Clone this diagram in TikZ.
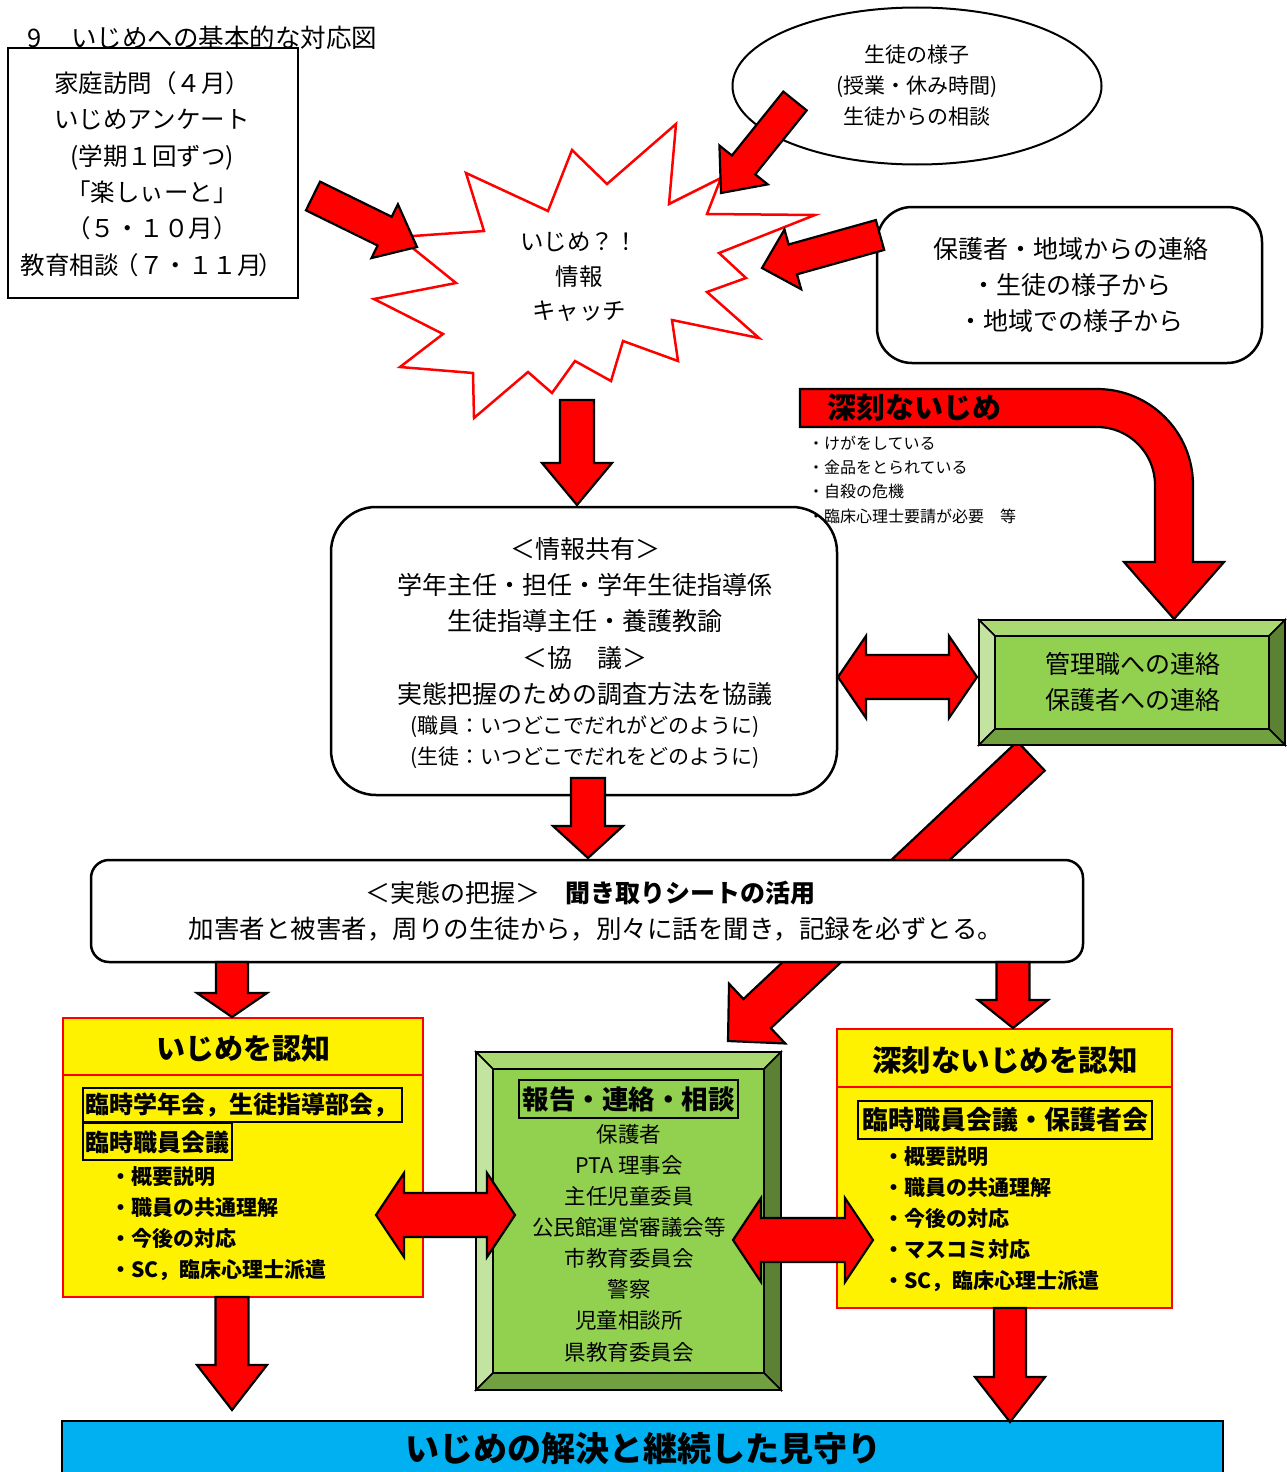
\documentclass[tikz,border=0pt]{standalone}
\usepackage{fontspec}
\setmainfont{Noto Sans CJK JP}
\usetikzlibrary{calc,shapes.geometric}
\definecolor{gface}{HTML}{92D050}
\definecolor{gtop}{HTML}{A9D970}
\definecolor{gleft}{HTML}{C3E3A0}
\definecolor{gright}{HTML}{5A8232}
\definecolor{gbot}{HTML}{70A040}
\definecolor{skyb}{HTML}{00B0F0}
\newcommand\fsl[2]{\fontsize{#1}{#2}\selectfont}
\tikzset{
  barrow/.style={fill=red, draw=black, line width=2.2pt, line join=miter, miter limit=10},
  txt/.style={inner sep=0pt},
  blackbox/.style={draw=black, line width=2.5pt, fill=white, inner sep=0pt},
  yellowbox/.style={draw=red, fill=yellow, line width=2pt, inner sep=0pt},
  tagbox/.style={draw=black, line width=2pt},
}
\newcommand\blockarrow[5]{%
  \coordinate (bah) at ($(#2)!#5pt!(#1)$);
  \draw[barrow] ($(#1)!#3pt!90:(#2)$) -- ($(bah)!#3pt!90:(#2)$) -- ($(bah)!#4pt!90:(#2)$) -- (#2) -- ($(bah)!#4pt!-90:(#2)$) -- ($(bah)!#3pt!-90:(#2)$) -- ($(#1)!#3pt!-90:(#2)$) -- cycle;
}
\newcommand\dblarrow[5]{%
  \coordinate (dha) at ($(#1)!#5pt!(#2)$);
  \coordinate (dhb) at ($(#2)!#5pt!(#1)$);
  \draw[barrow] (#1) -- ($(dha)!#4pt!90:(#2)$) -- ($(dha)!#3pt!90:(#2)$) -- ($(dhb)!#3pt!-90:(#1)$) -- ($(dhb)!#4pt!-90:(#1)$) -- (#2) -- ($(dhb)!#4pt!90:(#1)$) -- ($(dhb)!#3pt!90:(#1)$) -- ($(dha)!#3pt!-90:(#2)$) -- ($(dha)!#4pt!-90:(#2)$) -- cycle;
}
\newcommand\bevelbox[5]{%
  \filldraw[draw=black, line width=1.5pt, fill=gtop] (#1,#2) -- (#3,#2) -- ({#3-#5},{#2+#5}) -- ({#1+#5},{#2+#5}) -- cycle;
  \filldraw[draw=black, line width=1.5pt, fill=gleft] (#1,#2) -- ({#1+#5},{#2+#5}) -- ({#1+#5},{#4-#5}) -- (#1,#4) -- cycle;
  \filldraw[draw=black, line width=1.5pt, fill=gright] (#3,#2) -- (#3,#4) -- ({#3-#5},{#4-#5}) -- ({#3-#5},{#2+#5}) -- cycle;
  \filldraw[draw=black, line width=1.5pt, fill=gbot] (#1,#4) -- (#3,#4) -- ({#3-#5},{#4-#5}) -- ({#1+#5},{#4-#5}) -- cycle;
  \filldraw[draw=black, line width=1.5pt, fill=gface] ({#1+#5},{#2+#5}) rectangle ({#3-#5},{#4-#5});
  \draw[line width=2.8pt] (#1,#2) rectangle (#3,#4);
}
\begin{document}
\begin{tikzpicture}[x=1pt,y=-1pt]
\useasboundingbox (0,0) rectangle (1287,1472);
\fill[white] (0,0) rectangle (1287,1472);

% ---------- starburst ----------
\draw[red, line width=2.5pt, fill=white, line join=miter]
 (399,237) -- (484,231) -- (466,173) -- (548,211) -- (572,150) -- (607,184) -- (676,124) -- (669,204) -- (721,178) -- (707,214) -- (815,215) -- (719,253) -- (746,278) -- (707,292) -- (759,338) -- (672,320) -- (678,361) -- (623,341) -- (611,381) -- (575,361) -- (552,393) -- (528,372) -- (474,418) -- (473,373) -- (400,367) -- (443,334) -- (374,299) -- (456,283) -- cycle;
\node[txt, align=center, font=\fsl{23.5}{34.5}] (star) at (579,277) {いじめ？！\\情報\\キャッチ};

% ---------- title and top-left box ----------
\node[txt, anchor=west, font=\fsl{25.5}{25.5}] (title) at (27,38) {9\hspace{30pt}いじめへの基本的な対応図};
\node[blackbox, minimum width=290pt, minimum height=250pt] (home) at (153,173) {};
\node[txt, align=center, font=\fsl{24.5}{36.4}] (hometext) at (152,174) {家庭訪問（４月）\\いじめアンケート\\(学期１回ずつ)\\「楽しぃーと」\\（５・１０月）\\教育相談\hspace{-4pt}（７・１１月\hspace{-3pt}）};

% ---------- ellipse ----------
\node[draw, ellipse, line width=2pt, fill=white, minimum width=369pt, minimum height=157pt, inner sep=0pt] (ell) at (917,86) {};
\node[txt, align=center, font=\fsl{21}{31}] (elltext) at (917,86) {生徒の様子\\(授業・休み時間)\\生徒からの相談};

% ---------- parents box ----------
\node[blackbox, rounded corners=35pt, minimum width=385pt, minimum height=156pt] (par) at (1069.5,285) {};
\node[txt, align=center, font=\fsl{25}{36}] (partext) at (1071,285) {保護者・地域からの連絡\\・生徒の様子から\\・地域での様子から};

% ---------- arrows into starburst ----------
\coordinate (a1t) at (795,101); \coordinate (a1h) at (721,193);
\blockarrow{a1t}{a1h}{15}{31}{36}
\coordinate (a2t) at (313,196); \coordinate (a2h) at (417,247);
\blockarrow{a2t}{a2h}{16}{30}{36}
\coordinate (a3t) at (880,235); \coordinate (a3h) at (762,268);
\blockarrow{a3t}{a3h}{15.5}{31}{32}
\coordinate (a4t) at (577,400); \coordinate (a4h) at (577,505);
\blockarrow{a4t}{a4h}{17}{35}{42}

% ---------- serious bullying curved arrow ----------
\draw[barrow] (800,389) -- (1097,389) arc[start angle=270, end angle=360, radius=96] -- (1193,562) -- (1224,562) -- (1174,619) -- (1124,562) -- (1155,562) -- (1155,485) arc[start angle=0, end angle=-90, radius=58] -- (800,427) -- cycle;
\node[txt, font=\bfseries\fsl{29}{29}] (serious) at (914,408) {深刻ないじめ};

% ---------- info sharing box ----------
\node[blackbox, rounded corners=45pt, minimum width=506pt, minimum height=288pt] (info) at (584,651) {};
\node[txt, align=center, font=\fsl{25}{36.2}] (infotext) at (585,621.5) {＜情報共有＞\\学年主任・担任・学年生徒指導係\\生徒指導主任・養護教諭\\＜協　議＞\\実態把握のための調査方法を協議};
\node[txt, align=center, font=\fsl{21}{31}] (infosmall) at (585,742.5) {(職員：いつどこでだれがどのように)\\(生徒：いつどこでだれをどのように)};

\node[txt, anchor=west, align=left, font=\fsl{16}{24.3}] (serlist) at (808,479.5) {・けがをしている\\・金品をとられている\\・自殺の危機\\・臨床心理士要請が必要　等};

% ---------- diagonal arrow (behind boxes) ----------
\coordinate (a8t) at (1031,756); \coordinate (a8h) at (728,1041);
\blockarrow{a8t}{a8h}{20}{41}{40}

% ---------- management green box ----------
\bevelbox{979}{620}{1285}{745}{16}
\node[txt, minimum width=306pt, minimum height=125pt] (mgmt) at (1132,682.5) {};
\node[txt, align=center, font=\fsl{25}{36}] (mgmttext) at (1133,682) {管理職への連絡\\保護者への連絡};

\coordinate (a6a) at (838,677); \coordinate (a6b) at (977,677);
\dblarrow{a6a}{a6b}{22}{41}{28}

% ---------- survey box ----------
\node[blackbox, rounded corners=18pt, minimum width=992pt, minimum height=102pt] (survey) at (587,911) {};
\node[txt, font=\fsl{25}{25}] (survey1) at (590,893) {＜実態の把握＞　{\bfseries 聞き取りシートの活用}};
\node[txt, font=\fsl{25.5}{25.5}] (survey2) at (596,929) {加害者と被害者，周りの生徒から，別々に話を聞き，記録を必ずとる。};

\coordinate (a7t) at (588,778); \coordinate (a7h) at (588,858);
\blockarrow{a7t}{a7h}{17}{35}{32}

% ---------- left yellow ----------
\node[yellowbox, minimum width=360pt, minimum height=279pt] (yl) at (243,1157.5) {};
\draw[red, line width=2pt] (63,1075) -- (423,1075);
\node[txt, font=\bfseries\fsl{29}{29}] (yltitle) at (243,1048) {いじめを認知};
\draw[tagbox] (83,1088) rectangle (402,1122);
\node[txt, anchor=west, font=\bfseries\fsl{24}{24}] (yltag1) at (85,1105) {臨時学年会，生徒指導部会，};
\draw[tagbox] (83,1123) rectangle (232,1160);
\node[txt, anchor=west, font=\bfseries\fsl{24}{24}] (yltag2) at (85,1142) {臨時職員会議};
\node[txt, anchor=west, align=left, font=\bfseries\fsl{21}{31}] (yllist) at (110,1223.5) {・概要説明\\・職員の共通理解\\・今後の対応\\・SC，臨床心理士派遣};

% ---------- right yellow ----------
\node[yellowbox, minimum width=335pt, minimum height=279pt] (yr) at (1004.5,1168.5) {};
\draw[red, line width=2pt] (837,1087) -- (1172,1087);
\node[txt, font=\bfseries\fsl{29.5}{29.5}] (yrtitle) at (1005,1060) {深刻ないじめを認知};
\draw[tagbox] (858,1101) rectangle (1152,1139);
\node[txt, font=\bfseries\fsl{26}{26}] (yrtag) at (1005,1120) {臨時職員会議・保護者会};
\node[txt, anchor=west, align=left, font=\bfseries\fsl{21}{31}] (yrlist) at (883,1219) {・概要説明\\・職員の共通理解\\・今後の対応\\・マスコミ対応\\・SC，臨床心理士派遣};

% ---------- center green ----------
\bevelbox{476}{1052}{781}{1390}{17}
\node[txt, minimum width=305pt, minimum height=338pt] (rpt) at (628.5,1221) {};
\draw[tagbox] (519,1080) rectangle (738,1118);
\node[txt, font=\bfseries\fsl{26.5}{26.5}] (rpttitle) at (628.5,1099) {報告・連絡・相談};
\node[txt, align=center, font=\fsl{21.5}{31.1}] (rptlist) at (629,1243) {保護者\\PTA 理事会\\主任児童委員\\公民館運営審議会等\\市教育委員会\\警察\\児童相談所\\県教育委員会};

% ---------- arrows from survey ----------
\coordinate (a9t) at (232,962); \coordinate (a9h) at (232,1017);
\blockarrow{a9t}{a9h}{16}{35}{24}
\coordinate (a10t) at (1013,962); \coordinate (a10h) at (1013,1028);
\blockarrow{a10t}{a10h}{16.5}{35}{28}

\coordinate (a11a) at (376,1215); \coordinate (a11b) at (515,1215);
\dblarrow{a11a}{a11b}{22}{42}{28}
\coordinate (a12a) at (733,1240); \coordinate (a12b) at (873,1240);
\dblarrow{a12a}{a12b}{22}{42}{28}

% ---------- bottom ----------
\fill[skyb] (62,1421) rectangle (1223,1500);
\draw[line width=1.8pt] (62,1500) -- (62,1421) -- (1223,1421) -- (1223,1500);
\node[txt, minimum width=1161pt, minimum height=60pt] (goal) at (642.5,1451) {};
\node[txt, font=\bfseries\fsl{34}{34}] (goaltext) at (643,1449) {いじめの解決と継続した見守り};

\coordinate (a13t) at (232,1297); \coordinate (a13h) at (232,1410);
\blockarrow{a13t}{a13h}{16.5}{35}{45}
\coordinate (a14t) at (1010,1308); \coordinate (a14h) at (1010,1422);
\blockarrow{a14t}{a14h}{16}{35}{45}
\end{tikzpicture}
\end{document}
